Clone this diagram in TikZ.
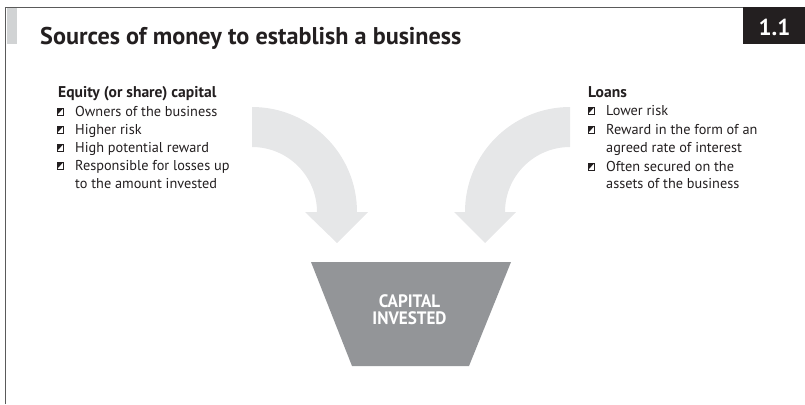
\documentclass[tikz,border=0pt]{standalone}
\usepackage{fontspec}
\setmainfont{PT Sans}
\newfontfamily\capfont[FakeStretch=0.95]{PT Sans}
\definecolor{arrowgray}{HTML}{E6E7E8}
\definecolor{funnelgray}{HTML}{939598}
\definecolor{bargray}{HTML}{D1D3D4}
\definecolor{framegray}{HTML}{5A5A5A}
\definecolor{boxblack}{HTML}{231F20}
\tikzset{
  txt/.style={anchor=base west, inner sep=0pt, font=\fontsize{14.3}{17}\selectfont, text=boxblack},
  head/.style={txt, font=\fontsize{15.6}{17}\selectfont\bfseries},
  bigarrow/.style={fill=arrowgray, draw=none},
}
\begin{document}
\begin{tikzpicture}[x=1pt,y=-1pt]
\useasboundingbox (0,0) rectangle (805,404);
% frame
\fill[bargray] (7,8) rectangle (17,44);
\draw[framegray, line width=1.4pt] (5.5,404) -- (5.5,7.5) -- (743,7.5);
\fill[boxblack] (743,7) rectangle (805,44);
\node[inner sep=0pt, text=white, font=\fontsize{23}{26}\selectfont\bfseries] (num) at (774.5,27) {1.1};
\node[anchor=base west, inner sep=0pt, text=boxblack, font=\fontsize{24.2}{30}\selectfont\bfseries] (title) at (40,45) {Sources of money to establish a business};
% arrows
\path[bigarrow] (252,107) arc[start angle=-90, end angle=0, radius=105] -- (368,212) -- (337,243) -- (305,212) -- (317,212) arc[start angle=0, end angle=-90, radius=65] -- cycle;
\path[bigarrow] (570,107) arc[start angle=-90, end angle=-180, radius=105] -- (454,212) -- (485,243) -- (516,212) -- (505,212) arc[start angle=-180, end angle=-90, radius=65] -- cycle;
% funnel
\fill[funnelgray] (311,262) -- (511,262) -- (469,366) -- (352,366) -- cycle;
\node[inner sep=0pt, align=center, text=white, font=\capfont\fontsize{18}{17}\selectfont\bfseries] (cap) at (409.5,310) {CAPITAL\\INVESTED};
% left text
\node[head] (lh) at (58,97) {Equity (or share) capital};
\node[txt] (l1) at (75,116) {Owners of the business};
\node[txt] (l2) at (75,134) {Higher risk};
\node[txt] (l3) at (75,152) {High potential reward};
\node[txt] (l4) at (75,170) {Responsible for losses up};
\node[txt] (l5) at (75,188) {to the amount invested};
% right text
\node[head] (rh) at (588,97) {Loans};
\node[txt] (r1) at (606,115) {Lower risk};
\node[txt] (r2) at (606,134) {Reward in the form of an};
\node[txt] (r3) at (606,152) {agreed rate of interest};
\node[txt] (r4) at (606,171) {Often secured on the};
\node[txt] (r5) at (606,188) {assets of the business};
% bullets
\foreach \bx/\by in {57/116, 57/134, 57/152, 57/170, 588/115, 588/134, 588/171}{
  \draw[boxblack, line width=0.5pt, fill=white] (\bx,\by-1) rectangle ++(6.5,-7);
  \fill[boxblack] (\bx,\by-1-7) -- ++(6.5,0) -- ++(-6.5,7) -- cycle;
}
\end{tikzpicture}
\end{document}
